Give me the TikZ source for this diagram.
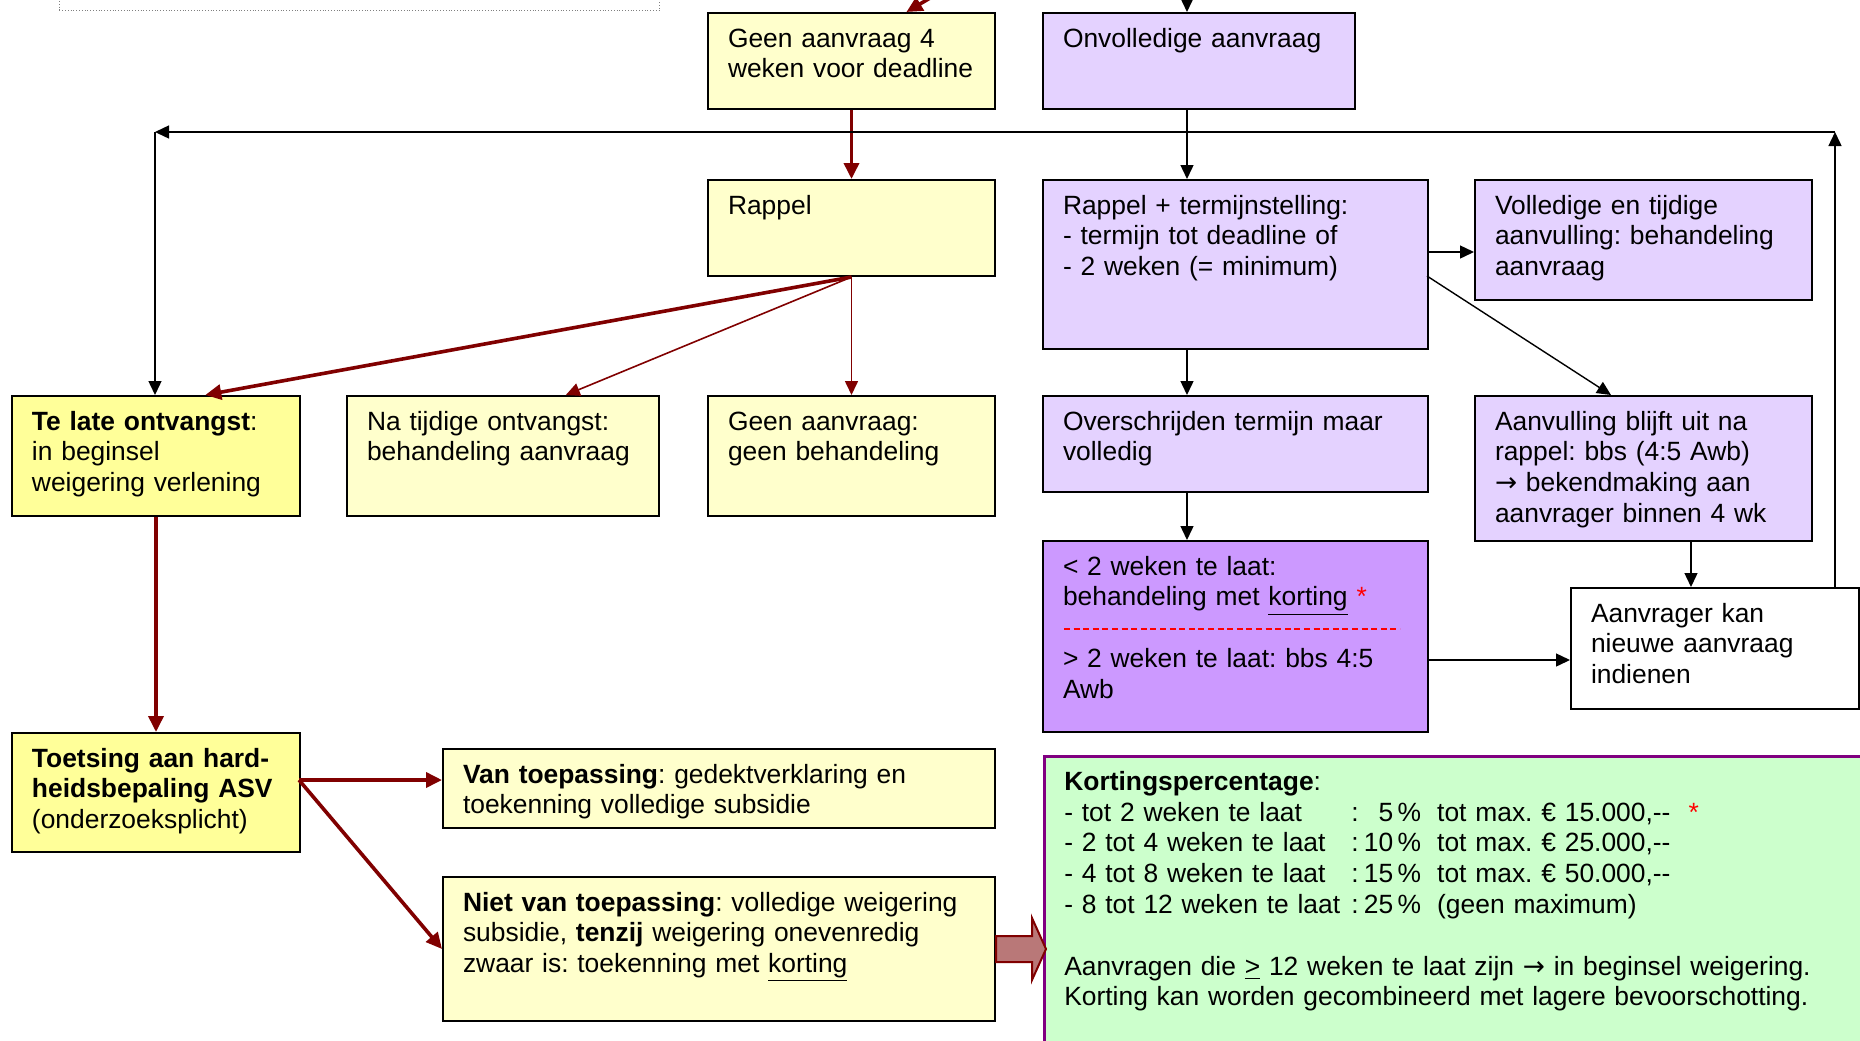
\documentclass[tikz,border=0pt]{standalone}
\usepackage{fontspec}
\setmainfont{Liberation Sans}
\newfontfamily\pijlfont{DejaVu Sans}
\usetikzlibrary{arrows.meta,calc}
\definecolor{lichtgeel}{RGB}{255,255,204}
\definecolor{geel}{RGB}{255,255,153}
\definecolor{lila}{RGB}{228,210,255}
\definecolor{paars}{RGB}{204,153,255}
\definecolor{donkerpaars}{RGB}{128,0,128}
\definecolor{mintgroen}{RGB}{204,255,204}
\definecolor{donkerrood}{RGB}{128,0,0}
\definecolor{steen}{RGB}{185,120,120}
\newcommand{\pijl}{{\pijlfont →}}
\frenchspacing

\begin{document}
\begin{tikzpicture}[x=0.5pt,y=-0.5pt,font=\fontsize{13.2}{15.4}\selectfont,
    vak/.style={draw=black,line width=1pt,anchor=north west,align=left,
        inner xsep=10pt,inner ysep=7pt,text height=10pt},
    zwart/.style={draw=black,line width=0.7pt,-{Triangle[length=7pt,width=6.5pt]}},
    rood/.style={draw=donkerrood,line width=1.8pt,-{Triangle[length=8pt,width=7.5pt]}},
    dunrood/.style={draw=donkerrood,line width=0.8pt,-{Triangle[length=7pt,width=6.5pt]}}]
      \useasboundingbox (0,0) rectangle (1860,1040);
      \node[draw=gray,densely dotted,minimum width=300pt,minimum height=30pt,
        anchor=south west] (vorige) at (59,11) {};
      \node[vak,fill=lichtgeel,text width=123.5pt,text depth=24pt] (geen4) at (707,12)
        {Geen aanvraag 4\\weken voor deadline};
      \node[vak,fill=lila,text width=136pt,text depth=24pt] (onvol) at (1042,12)
        {Onvolledige aanvraag};
      \node[vak,fill=lichtgeel,text width=123.5pt,text depth=24pt] (rappel) at (707,179)
        {Rappel};
      \node[vak,fill=lila,text width=172.5pt,text depth=60.5pt] (termijn) at (1042,179)
        {Rappel + termijnstelling:\\- termijn tot deadline of\\- 2 weken (= minimum)};
      \node[vak,fill=lila,text width=148.5pt,text depth=36pt] (volledig) at (1474,179)
        {Volledige en tijdige\\aanvulling: behandeling\\aanvraag};
      \node[vak,fill=geel,text width=124pt,text depth=36pt] (telaat) at (11,395)
        {\textbf{Te late ontvangst}:\\in beginsel\\weigering verlening};
      \node[vak,fill=lichtgeel,text width=136pt,text depth=36pt] (tijdig) at (346,395)
        {Na tijdige ontvangst:\\behandeling aanvraag};
      \node[vak,fill=lichtgeel,text width=123.5pt,text depth=36pt] (geen) at (707,395)
        {Geen aanvraag:\\geen behandeling};
      \node[vak,fill=lila,text width=172.5pt,text depth=24pt] (overschr) at (1042,395)
        {Overschrijden termijn maar\\volledig};
      \node[vak,fill=lila,text width=148.5pt,text depth=48.5pt] (uitblijf) at (1474,395)
        {Aanvulling blijft uit na\\rappel: bbs (4:5 Awb)\\\pijl\ bekendmaking aan\\aanvrager binnen 4 wk};
      \node[vak,fill=paars,text width=172.5pt,text depth=71.5pt] (laat) at (1042,540)
        {< 2 weken te laat:\\behandeling met \underline{korting} \textcolor{red}{*}\\[15.4pt]
         > 2 weken te laat: bbs 4:5\\Awb};
      \node[vak,fill=white,text width=124pt,text depth=36.5pt] (nieuw) at (1570,587)
        {Aanvrager kan\\nieuwe aanvraag\\indienen};
      \node[vak,fill=geel,text width=124pt,text depth=35.5pt] (toets) at (11,732)
        {\textbf{Toetsing aan hard-}\\\textbf{heidsbepaling ASV}\\(onderzoeksplicht)};
      \node[vak,fill=lichtgeel,text width=256pt,text depth=15.5pt] (vantoep) at (442,748)
        {\textbf{Van toepassing}: gedektverklaring en\\toekenning volledige subsidie};
      \node[vak,fill=lichtgeel,text width=256pt,text depth=48pt] (niettoep) at (442,876)
        {\textbf{Niet van toepassing}: volledige weigering\\subsidie, \textbf{tenzij} weigering onevenredig\\zwaar is: toekenning met \underline{korting}};
      \node[vak,draw=donkerpaars,line width=1.3pt,fill=mintgroen,text width=390pt,
        text depth=130pt] (korting) at (1043,755)
        {\textbf{Kortingspercentage}:\\
         \makebox[143.5pt][l]{- tot 2 weken te laat}:\makebox[31.3pt][r]{5\,\%}\hspace{8pt}tot max. € 15.000,-{}-\hspace{9pt}\textcolor{red}{*}\\
         \makebox[143.5pt][l]{- 2 tot 4 weken te laat}:\makebox[31.3pt][r]{10\,\%}\hspace{8pt}tot max. € 25.000,-{}-\\
         \makebox[143.5pt][l]{- 4 tot 8 weken te laat}:\makebox[31.3pt][r]{15\,\%}\hspace{8pt}tot max. € 50.000,-{}-\\
         \makebox[143.5pt][l]{- 8 tot 12 weken te laat}:\makebox[31.3pt][r]{25\,\%}\hspace{8pt}(geen maximum)\\[15.4pt]
         Aanvragen die \underline{>} 12 weken te laat zijn \pijl\ in beginsel weigering.\\
         Korting kan worden gecombineerd met lagere bevoorschotting.};
      \draw[red,line width=0.6pt,dash pattern=on 3pt off 1.8pt] (1064,629) -- (1400,629);
      % hulppunten
      \coordinate (kolom) at (1187,0);
      \coordinate (inRood) at (947,-12);
      \coordinate (inZwart) at (1187,-10);
      \coordinate (geenIn) at ($(geen4.north west)!0.69!(geen4.north east)$);
      \coordinate (telaatIn) at ($(telaat.north west)!0.67!(telaat.north east)$);
      \coordinate (tijdigIn) at ($(tijdig.north west)!0.70!(tijdig.north east)$);
      \coordinate (tv) at (1427,252);
      \coordinate (tu) at (1427,276);
      \coordinate (uitIn) at (1611,395);
      \coordinate (uitKolom) at (1691,0);
      \coordinate (lv) at (1427,660);
      \coordinate (toetsUit) at (299,780);
      \coordinate (hoekL) at (155,132);
      \coordinate (hoekR) at (1835,132);
      \path
      (inRood) edge [rood] (geenIn)
      (geen4) edge [rood] (rappel)
      (rappel.south) edge [rood] (telaatIn)
      (rappel.south) edge [dunrood] (tijdigIn)
      (rappel.south) edge [dunrood] (geen.north)
      (telaat) edge [rood] (toets)
      (toetsUit) edge [rood] (vantoep.west |- toetsUit)
      (toetsUit) edge [rood] (niettoep.west);
      \path
      (inZwart) edge [zwart] (onvol.north -| kolom)
      (onvol.south -| kolom) edge [zwart] (termijn.north -| kolom)
      (termijn.south -| kolom) edge [zwart] (overschr.north -| kolom)
      (overschr.south -| kolom) edge [zwart] (laat.north -| kolom)
      (tv) edge [zwart] (volledig.west |- tv)
      (tu) edge [zwart] (uitIn)
      (uitblijf.south -| uitKolom) edge [zwart] (nieuw.north -| uitKolom)
      (lv) edge [zwart] (nieuw.west |- lv)
      (nieuw.north -| hoekR) edge [zwart] (hoekR)
      (hoekR) edge [zwart] (hoekL)
      (hoekL) edge [zwart] (telaat.north -| hoekL);
      \filldraw[fill=steen,draw=donkerrood,line width=1pt]
        ($(niettoep.east)+(0,-13)$) -- ++(36,0) -- ++(0,-18) -- ++(14,31)
        -- ++(-14,31) -- ++(0,-18) -- ++(-36,0) -- cycle;
    \end{tikzpicture}
\end{document}
